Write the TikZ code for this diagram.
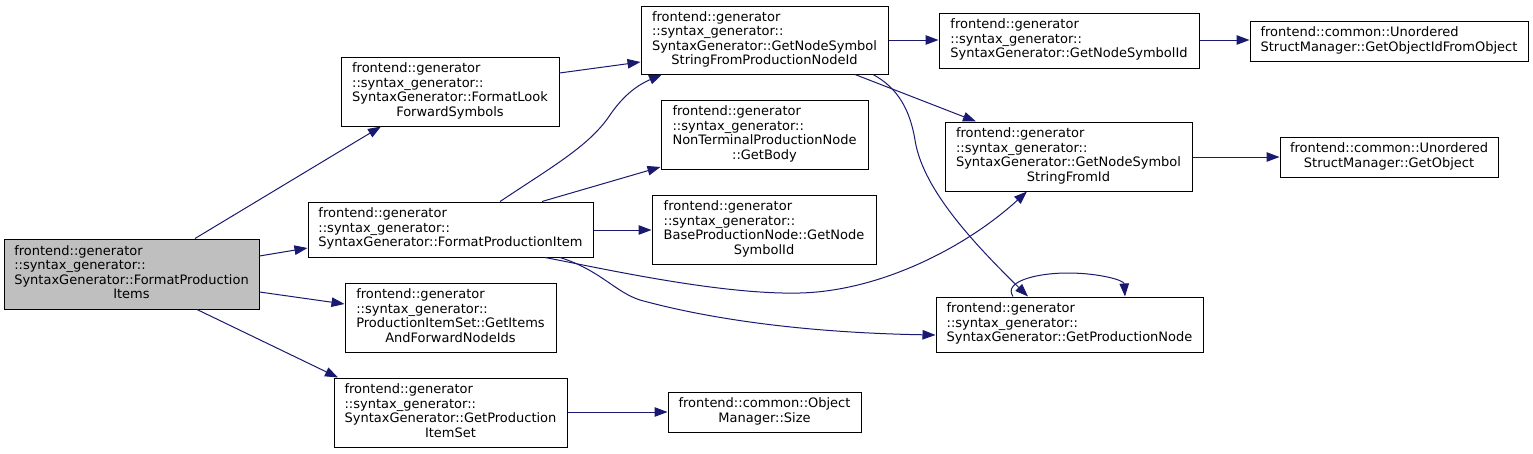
\documentclass[tikz,border=0pt]{standalone}
\usepackage{fontspec}
\setmainfont{DejaVu Sans}
\usetikzlibrary{arrows.meta}
\definecolor{edgeblue}{HTML}{191970}
\definecolor{rootgray}{HTML}{BFBFBF}
\newcommand\boxtext[1]{\begin{tabular}{@{}l@{}}#1\end{tabular}}
\newcommand\centerln[1]{\multicolumn{1}{@{}c@{}}{#1}}
\tikzset{
  box/.style={draw=black, line width=1pt, inner sep=0pt, fill=white,
    font=\fontsize{13}{14.5}\selectfont},
  rootbox/.style={box, fill=rootgray},
  edge/.style={draw=edgeblue, line width=1pt, -{Triangle[length=13pt,width=9.5pt]}}
}
\begin{document}
\begin{tikzpicture}[x=1pt,y=-1pt]
\useasboundingbox (0,0) rectangle (1533,453);
% nodes
\node[rootbox, minimum width=255pt, minimum height=70pt] (root) at (131.5,274)
  {\boxtext{frontend::generator\\::syntax\_generator::\\SyntaxGenerator::FormatProduction\\\centerln{Items}}};
\node[box, minimum width=218pt, minimum height=69pt] (flfs) at (450,91.5)
  {\boxtext{frontend::generator\\::syntax\_generator::\\SyntaxGenerator::FormatLook\\\centerln{ForwardSymbols}}};
\node[box, minimum width=247pt, minimum height=68pt] (gnssfpni) at (764.5,40)
  {\boxtext{frontend::generator\\::syntax\_generator::\\SyntaxGenerator::GetNodeSymbol\\\centerln{StringFromProductionNodeId}}};
\node[box, minimum width=285pt, minimum height=55pt] (fpi) at (450.5,229.5)
  {\boxtext{frontend::generator\\::syntax\_generator::\\SyntaxGenerator::FormatProductionItem}};
\node[box, minimum width=207pt, minimum height=69pt] (getbody) at (764.5,134.5)
  {\boxtext{frontend::generator\\::syntax\_generator::\\NonTerminalProductionNode\\\centerln{::GetBody}}};
\node[box, minimum width=224pt, minimum height=69pt] (baseprod) at (764,229.5)
  {\boxtext{frontend::generator\\::syntax\_generator::\\BaseProductionNode::GetNode\\\centerln{SymbolId}}};
\node[box, minimum width=211pt, minimum height=69pt] (getitems) at (450.5,317.5)
  {\boxtext{frontend::generator\\::syntax\_generator::\\ProductionItemSet::GetItems\\\centerln{AndForwardNodeIds}}};
\node[box, minimum width=233pt, minimum height=69pt] (gpis) at (450.5,412.5)
  {\boxtext{frontend::generator\\::syntax\_generator::\\SyntaxGenerator::GetProduction\\\centerln{ItemSet}}};
\node[box, minimum width=193pt, minimum height=40pt] (size) at (764.5,412)
  {\boxtext{frontend::common::Object\\\centerln{Manager::Size}}};
\node[box, minimum width=260pt, minimum height=55pt] (gnsi) at (1069,40.5)
  {\boxtext{frontend::generator\\::syntax\_generator::\\SyntaxGenerator::GetNodeSymbolId}};
\node[box, minimum width=278pt, minimum height=40pt] (goifo) at (1389,41)
  {\boxtext{frontend::common::Unordered\\StructManager::GetObjectIdFromObject}};
\node[box, minimum width=247pt, minimum height=69pt] (gnssfi) at (1068.5,156.5)
  {\boxtext{frontend::generator\\::syntax\_generator::\\SyntaxGenerator::GetNodeSymbol\\\centerln{StringFromId}}};
\node[box, minimum width=218pt, minimum height=40pt] (getobject) at (1389,157)
  {\boxtext{frontend::common::Unordered\\\centerln{StructManager::GetObject}}};
\node[box, minimum width=267pt, minimum height=55pt] (gpn) at (1069.5,324.5)
  {\boxtext{frontend::generator\\::syntax\_generator::\\SyntaxGenerator::GetProductionNode}};
% edges
\draw[edge] (root.north -| 195,0) -- (flfs.south -| 381,0);
\draw[edge] (root.east |- 0,256) -- (fpi.west |- 0,248);
\draw[edge] (root.east |- 0,292) -- (getitems.west |- 0,304);
\draw[edge] (root.south -| 197,0) -- (gpis.north -| 338,0);
\draw[edge] (flfs.east |- 0,73) -- (gnssfpni.west |- 0,62);
\draw[edge] (fpi.north -| 500,0) .. controls (555,165) and (590,145) .. (610,115)
  .. controls (625,93) and (640,84) .. (gnssfpni.south -| 662,0);
\draw[edge] (fpi.north -| 542,0) -- (getbody.west |- 0,167);
\draw[edge] (fpi.east |- 0,230) -- (baseprod.west |- 0,230);
\draw[edge] (fpi.south -| 545,0) .. controls (600,268) and (720,295) .. (800,293)
  .. controls (880,291) and (965,248) .. (gnssfi.south -| 1027,0);
\draw[edge] (fpi.south -| 560,0) .. controls (600,270) and (615,292) .. (640,300)
  .. controls (720,322) and (820,333) .. (gpn.west |- 0,335);
\draw[edge] (gnssfpni.east |- 0,40) -- (gnsi.west |- 0,40);
\draw[edge] (gnssfpni.south -| 855,0) -- (gnssfi.north -| 976,0);
\draw[edge] (gnssfpni.south -| 873,0) .. controls (898,88) and (910,110) .. (915,140)
  .. controls (922,185) and (965,235) .. (gpn.north -| 1028,0);
\draw[edge] (gnsi.east |- 0,40) -- (goifo.west |- 0,40);
\draw[edge] (gnssfi.east |- 0,157) -- (getobject.west |- 0,157);
\draw[edge] (gpn.north -| 1013,0) .. controls (1003,282) and (1035,273) .. (1068,273)
  .. controls (1098,273) and (1124,280) .. (gpn.north -| 1125,0);
\draw[edge] (gpis.east |- 0,412) -- (size.west |- 0,412);
\end{tikzpicture}
\end{document}
